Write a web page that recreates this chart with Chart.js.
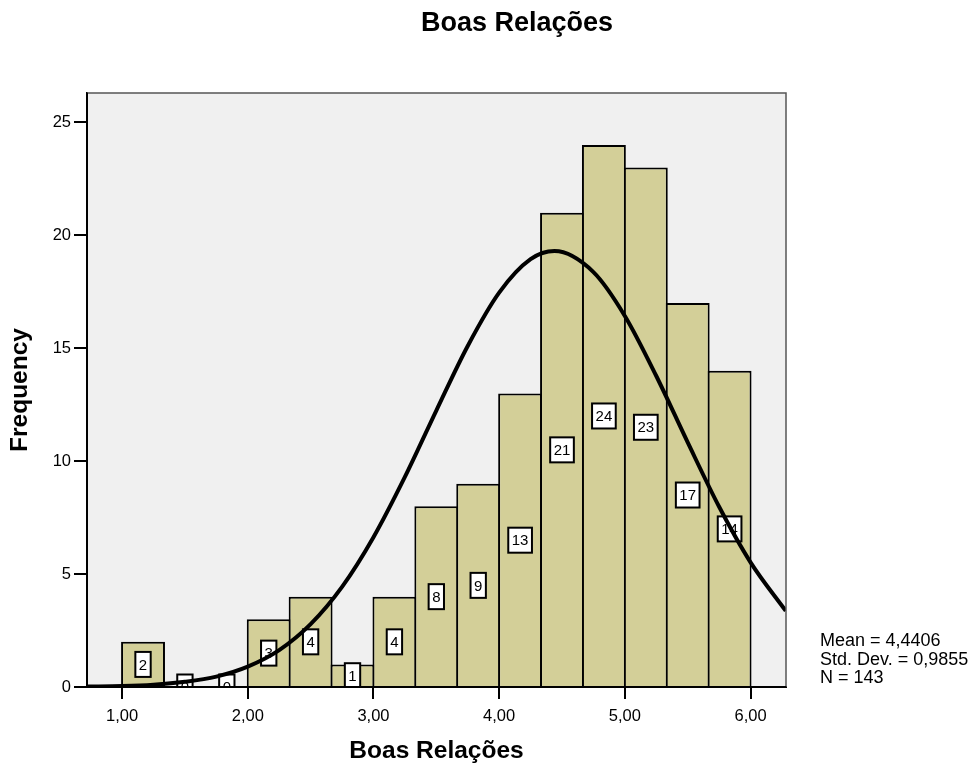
<!DOCTYPE html>
<html>
<head>
<meta charset="utf-8">
<title>Boas Relações</title>
<style>
  html, body { margin: 0; padding: 0; background: #ffffff; }
  #wrap { width: 977px; height: 771px; }
</style>
<script src="https://cdn.jsdelivr.net/npm/chart.js@4"></script>
</head>
<body>
<div id="wrap"><canvas id="histogram" width="977" height="771"></canvas></div>
<script>
// Histogram bins (width 1/3) and their counts
const binCenters = [1.1667, 1.5, 1.8333, 2.1667, 2.5, 2.8333, 3.1667, 3.5, 3.8333,
                    4.1667, 4.5, 4.8333, 5.1667, 5.5, 5.8333];
const frequencies = [2, 0, 0, 3, 4, 1, 4, 8, 9, 13, 21, 24, 23, 17, 14];

// Normal curve traced over the histogram
const curveX = [0.72, 1.00, 1.25, 1.50, 1.75, 2.00, 2.25, 2.50, 2.75, 3.00, 3.25, 3.50,
                3.75, 4.00, 4.25, 4.44, 4.75, 5.00, 5.25, 5.50, 5.75, 6.00, 6.28];
const curveY = [0.02, 0.04, 0.10, 0.23, 0.46, 0.90, 1.63, 2.78, 4.43, 6.63, 9.30, 12.24,
                15.10, 17.46, 18.94, 19.30, 18.37, 16.43, 13.77, 10.83, 7.98, 5.52, 3.37];

// Axis ticks and texts
const xTickValues = [1, 2, 3, 4, 5, 6];
const yTickValues = [0, 5, 10, 15, 20, 25];
const chartTitle = 'Boas Relações';
const xAxisTitle = 'Boas Relações';
const yAxisTitle = 'Frequency';
const statLines = ['Mean = 4,4406', 'Std. Dev. = 0,9855', 'N = 143'];

const FONT = "'Liberation Sans', Arial, Helvetica, sans-serif";
const BAR_FILL = '#D3CF98';
const PANEL_FILL = '#F0F0F0';

const histogramDecor = {
  id: 'histogramDecor',
  beforeDraw(chart) {
    const { ctx, chartArea: a } = chart;
    ctx.save();
    ctx.fillStyle = PANEL_FILL;
    ctx.fillRect(a.left, a.top, a.right - a.left, a.bottom - a.top);
    ctx.restore();
  },
  afterDatasetDraw(chart, args) {
    if (args.meta.type !== 'bar') return;
    const { ctx, chartArea: a } = chart;
    const xs = chart.scales.x, ys = chart.scales.y;
    ctx.save();
    ctx.beginPath();
    ctx.rect(a.left, a.top, a.right - a.left, a.bottom - a.top);
    ctx.clip();
    ctx.font = '15px ' + FONT;
    ctx.textAlign = 'center';
    ctx.textBaseline = 'middle';
    frequencies.forEach((v, i) => {
      const cx = xs.getPixelForValue(binCenters[i]);
      const cy = ys.getPixelForValue(v / 2);
      const txt = String(v);
      const w = ctx.measureText(txt).width + 7;
      const h = 25;
      ctx.fillStyle = '#ffffff';
      ctx.fillRect(cx - w / 2, cy - h / 2, w, h);
      ctx.lineWidth = 2;
      ctx.strokeStyle = '#000000';
      ctx.strokeRect(cx - w / 2, cy - h / 2, w, h);
      ctx.fillStyle = '#000000';
      ctx.fillText(txt, cx, cy + 1);
    });
    ctx.restore();
  },
  afterDraw(chart) {
    const { ctx, chartArea: a } = chart;
    ctx.save();
    // frame of the plot panel
    ctx.strokeStyle = '#555555';
    ctx.lineWidth = 1.5;
    ctx.beginPath();
    ctx.moveTo(a.left, a.top);
    ctx.lineTo(a.right, a.top);
    ctx.lineTo(a.right, a.bottom);
    ctx.stroke();
    ctx.strokeStyle = '#000000';
    ctx.lineWidth = 2;
    ctx.beginPath();
    ctx.moveTo(a.left, a.top);
    ctx.lineTo(a.left, a.bottom);
    ctx.lineTo(a.right, a.bottom);
    ctx.stroke();

    // main title
    ctx.fillStyle = '#000000';
    ctx.font = 'bold 27px ' + FONT;
    ctx.textAlign = 'center';
    ctx.textBaseline = 'alphabetic';
    ctx.fillText(chartTitle, 517, 31);

    // summary statistics
    ctx.font = '18px ' + FONT;
    ctx.textAlign = 'left';
    statLines.forEach((t, i) => ctx.fillText(t, 820, 646 + i * 18.5));
    ctx.restore();
  }
};

const tickGrid = {
  display: true,
  drawOnChartArea: false,
  drawTicks: true,
  offset: false,
  color: '#000000',
  lineWidth: 2
};

new Chart(document.getElementById('histogram'), {
  data: {
    datasets: [
      {
        type: 'line',
        label: 'Normal',
        data: curveX.map((x, i) => ({ x: x, y: curveY[i] })),
        borderColor: '#000000',
        borderWidth: 4,
        pointRadius: 0,
        cubicInterpolationMode: 'monotone',
        fill: false,
        clip: 0,
        order: 0
      },
      {
        type: 'bar',
        label: 'Frequency',
        data: binCenters.map((x, i) => ({ x: x, y: frequencies[i] })),
        backgroundColor: BAR_FILL,
        borderColor: '#000000',
        borderWidth: 2,
        borderSkipped: 'start',
        barPercentage: 1.048,
        categoryPercentage: 1,
        order: 1
      }
    ]
  },
  options: {
    responsive: false,
    animation: false,
    devicePixelRatio: 1,
    layout: { padding: { left: 0, top: 93, right: 191, bottom: 0 } },
    plugins: {
      legend: { display: false },
      title: { display: false },
      tooltip: { enabled: false }
    },
    scales: {
      x: {
        type: 'linear',
        position: 'bottom',
        offset: false,
        min: 0.721,
        max: 6.282,
        afterBuildTicks: s => { s.ticks = xTickValues.map(v => ({ value: v })); },
        afterFit: s => { s.height = 84; },
        ticks: {
          callback: v => v.toFixed(2).replace('.', ','),
          color: '#000000',
          font: { family: FONT, size: 16.5 },
          padding: 8,
          maxRotation: 0,
          autoSkip: false
        },
        grid: Object.assign({ tickLength: 12 }, tickGrid),
        border: { display: true, color: '#000000', width: 2 },
        title: {
          display: true,
          text: xAxisTitle,
          color: '#000000',
          font: { family: FONT, size: 24.5, weight: 'bold' },
          padding: { top: 0, bottom: 5 }
        }
      },
      y: {
        type: 'linear',
        position: 'left',
        min: 0,
        max: 26.3,
        afterBuildTicks: s => { s.ticks = yTickValues.map(v => ({ value: v })); },
        afterFit: s => { s.width = 87; },
        ticks: {
          color: '#000000',
          font: { family: FONT, size: 16.5 },
          padding: 3
        },
        grid: Object.assign({ tickLength: 13 }, tickGrid),
        border: { display: true, color: '#000000', width: 2 },
        title: {
          display: true,
          text: yAxisTitle,
          color: '#000000',
          font: { family: FONT, size: 24.5, weight: 'bold' },
          padding: { top: 6, bottom: 0 }
        }
      }
    }
  },
  plugins: [histogramDecor]
});
</script>
</body>
</html>
